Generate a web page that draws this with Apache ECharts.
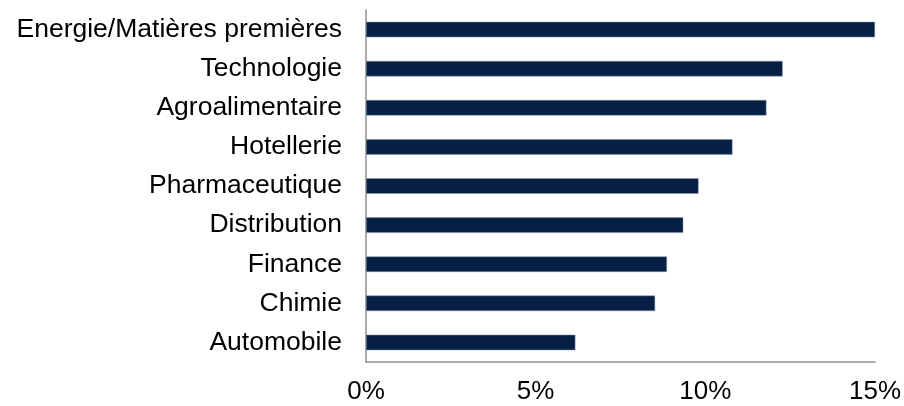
<!DOCTYPE html>
<html>
<head>
<meta charset="utf-8">
<script src="https://cdn.jsdelivr.net/npm/echarts@6/dist/echarts.min.js"></script>
<style>
    html, body { margin: 0; padding: 0; background: #fff; }
    #chart { width: 904px; height: 406px; }
</style>
</head>
<body>
<div id="chart"></div>
<script>
// secteurs, du haut vers le bas
const categories = ['Energie/Matières premières', 'Technologie', 'Agroalimentaire', 'Hotellerie',
    'Pharmaceutique', 'Distribution', 'Finance', 'Chimie', 'Automobile']
const values = [15.0, 12.28, 11.8, 10.8, 9.8, 9.35, 8.87, 8.52, 6.17]
const ticks = [0, 5, 10, 15]

const myChart = echarts.init(document.getElementById('chart'))
myChart.setOption({
    animation: false,
    grid: {
        left: 366,
        right: 26,
        top: 10,
        bottom: 44
    },
    xAxis: {
        type: 'value',
        min: ticks[0],
        max: ticks[ticks.length - 1],
        interval: 5,
        axisLine: { show: true, lineStyle: { color: '#8f8f8f', width: 1.5 } },
        axisTick: { show: false },
        splitLine: { show: false },
        axisLabel: {
            color: '#000',
            fontFamily: 'Liberation Sans, Arial, sans-serif',
            fontSize: 26,
            margin: 17,
            formatter: v => v + '%'
        }
    },
    yAxis: {
        type: 'category',
        inverse: true,
        data: categories,
        axisLine: { show: true, lineStyle: { color: '#8f8f8f', width: 1.5 } },
        axisTick: { show: false },
        axisLabel: {
            color: '#000',
            fontFamily: 'Liberation Sans, Arial, sans-serif',
            fontSize: 26.5,
            margin: 24
        }
    },
    series: [{
        type: 'bar',
        data: values,
        barWidth: 15.5,
        itemStyle: { color: '#061f44', borderColor: '#8a97aa', borderWidth: 0.5 }
    }]
})
</script>
</body>
</html>
